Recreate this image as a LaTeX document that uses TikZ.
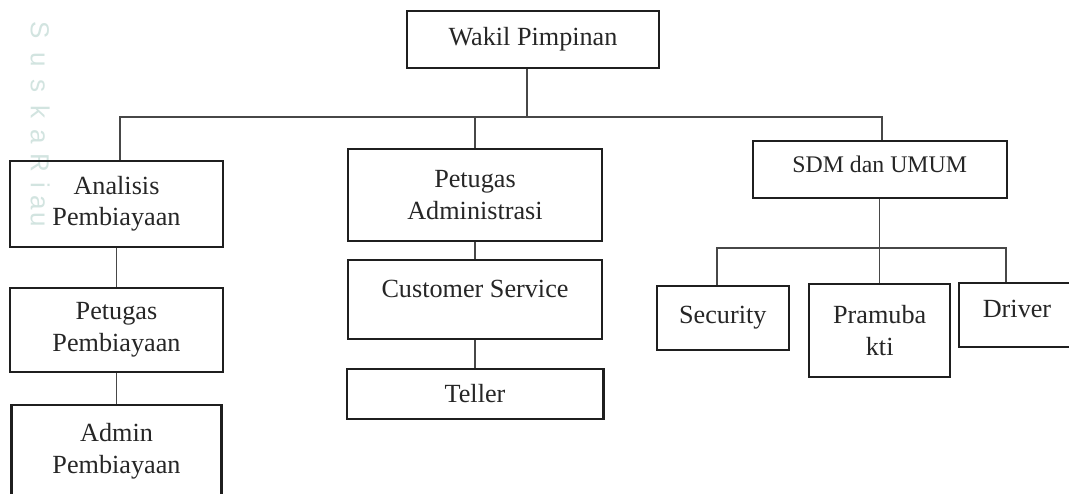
\documentclass[tikz,border=0pt]{standalone}
\usepackage{fontspec}
\setmainfont{Liberation Serif}
\newfontfamily\wmfont{Liberation Sans}
\definecolor{wmcol}{RGB}{210,228,224}

\begin{document}
\begin{tikzpicture}[x=0.5pt, y=-0.5pt,
  box/.style={draw=black!88, line width=1.1pt, inner sep=0pt, align=center,
    text=black!85, font=\fontsize{13.1}{15.8}\selectfont},
  link/.style={draw=black!72, line width=0.6pt}]
\clip (0,0) rectangle (1069,493);
\fill[white] (0,0) rectangle (1069,493);

% watermark letters down the left edge
\foreach \ch/\yy in {S/30, u/60, s/86, k/112, a/137, R/163, i/185, a/203, u/220}
  \node[rotate=-90, anchor=base, inner sep=0pt, text=wmcol,
    font=\wmfont\fontsize{13}{15}\selectfont] at (31,\yy) {\ch};

\draw
(533, 39.3) node[box, minimum width=126pt, minimum height=28.65pt](wakil){Wakil Pimpinan}
(116.5, 203.7) node[box, minimum width=106.5pt, minimum height=43pt](analisis){Analisis\\Pembiayaan}
(116.5, 329.7) node[box, minimum width=106.4pt, minimum height=42pt](petugaspemb){Petugas\\Pembiayaan}
(116.5, 451) node[box, minimum width=105pt, minimum height=46pt](admin){Admin\\Pembiayaan}
(475, 195) node[box, minimum width=126.7pt, minimum height=45.7pt](petugasadm){Petugas\\Administrasi}
(475, 299.5) node[box, minimum width=126.9pt, minimum height=39.5pt, text depth=10.8pt](cs){Customer Service}
(475, 393.8) node[box, minimum width=128.4pt, minimum height=24.9pt](teller){Teller}
(879.7, 169.5) node[box, minimum width=127pt, minimum height=28.8pt, text depth=4.8pt,
  font=\fontsize{11.9}{14}\selectfont](sdm){SDM dan UMUM}
(722.8, 318) node[box, minimum width=66.2pt, minimum height=32pt](security){Security}
(879.7, 330.8) node[box, minimum width=70.4pt, minimum height=46.5pt](pramubakti){Pramuba\\kti}
(1017, 314.7) node[box, minimum width=58pt, minimum height=32pt, text depth=6pt](driver){Driver};

\coordinate (topl) at (120, 117);
\coordinate (topm) at (527, 117);
\coordinate (topr) at (882, 117);
\coordinate (botl) at (717, 248);
\coordinate (botr) at (1006, 248);

\draw[link] (topm |- wakil.south) -- (topm);
\draw[link] (topl |- analisis.north) -- (topl) -- (topr) -- (topr |- sdm.north);
\draw[link] (petugasadm.north) -- (petugasadm.north |- topm);
\draw[link] (analisis) -- (petugaspemb);
\draw[link] (petugaspemb) -- (admin);
\draw[link] (petugasadm) -- (cs);
\draw[link] (cs) -- (teller);
\draw[link] (sdm) -- (pramubakti);
\draw[link] (botl |- security.north) -- (botl) -- (botr) -- (botr |- driver.north);

\end{tikzpicture}
\end{document}
